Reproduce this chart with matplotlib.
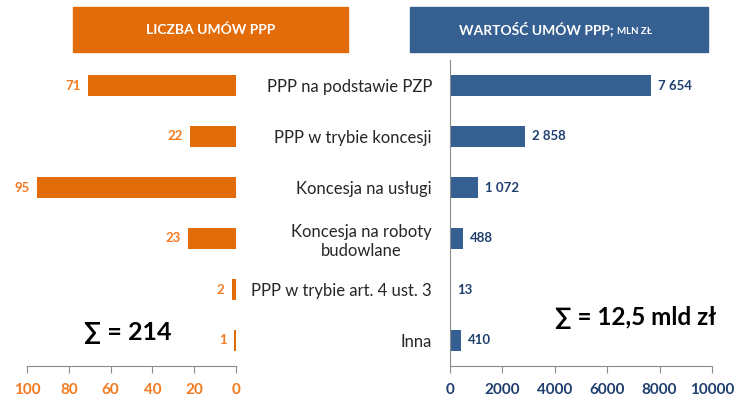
import numpy as np
import matplotlib.pyplot as plt
from matplotlib.patches import Rectangle

categories = ["PPP na podstawie PZP", "PPP w trybie koncesji", "Koncesja na usługi",
              "Koncesja na roboty\nbudowlane", "PPP w trybie art. 4 ust. 3", "Inna"]
counts = [71, 22, 95, 23, 2, 1]
values = [7654, 2858, 1072, 488, 13, 410]
value_labels = ["7 654", "2 858", "1 072", "488", "13", "410"]

orange = "#E36C0A"
orange_txt = "#F47A20"
blue = "#366092"
blue_txt = "#1F3F6E"
grey = "#8C8C8C"

plt.rcParams['font.family'] = ['Lato', 'DejaVu Sans']

W, H = 752, 400
fig = plt.figure(figsize=(W / 100, H / 100), dpi=100)

def box(x0, y0, x1, y1):
    return [x0 / W, 1 - y1 / H, (x1 - x0) / W, (y1 - y0) / H]

ypos = np.arange(len(categories))

# left panel: number of contracts
axl = fig.add_axes(box(27, 60, 236, 366))
axl.barh(ypos, counts, height=0.43, color=orange)
axl.set_xlim(100, 0)
axl.set_ylim(5.5, -0.5)
axl.set_xticks([100, 80, 60, 40, 20, 0])
for s in ["top", "left", "right"]:
    axl.spines[s].set_visible(False)
axl.spines["bottom"].set_color(grey)
axl.set_yticks([])
axl.tick_params(axis="x", colors=grey, length=5, pad=7)
for t in axl.get_xticklabels():
    t.set_color(orange_txt)
    t.set_fontweight("bold")
    t.set_fontsize(11)
for y, c in zip(ypos, counts):
    axl.text(c + 3.5, y, str(c), ha="right", va="center", color=orange_txt,
             fontsize=9.5, fontweight="bold")
axl.text(0.48, 0.11, "∑ = 214", transform=axl.transAxes, ha="center", va="center",
         fontsize=18, fontweight="bold", color="black")

# right panel: value of contracts
axr = fig.add_axes(box(450, 60, 712, 366))
axr.barh(ypos, values, height=0.43, color=blue)
axr.set_xlim(0, 10000)
axr.set_ylim(5.5, -0.5)
axr.set_xticks([0, 2000, 4000, 6000, 8000, 10000])
for s in ["top", "right"]:
    axr.spines[s].set_visible(False)
axr.spines["bottom"].set_color(grey)
axr.spines["left"].set_color(grey)
axr.set_yticks(ypos)
axr.set_yticklabels(categories, fontsize=12, color="#262626", ha="right")
axr.tick_params(axis="y", length=0, pad=13)
axr.tick_params(axis="x", colors=grey, length=5, pad=7)
for t in axr.get_xticklabels():
    t.set_color(blue_txt)
    t.set_fontweight("bold")
    t.set_fontsize(11)
for t in axr.get_yticklabels():
    t.set_multialignment("center")
for y, v, lab in zip(ypos, values, value_labels):
    axr.text(v + 280, y, lab, ha="left", va="center", color=blue_txt,
             fontsize=9.5, fontweight="bold")
axr.text(0.71, 0.16, "∑ = 12,5 mld zł", transform=axr.transAxes, ha="center",
         va="center", fontsize=17.5, fontweight="bold", color="black")

# header boxes
fig.patches.append(Rectangle((73 / W, 1 - 52 / H), 275 / W, 45 / H,
                             transform=fig.transFigure, color=orange))
fig.patches.append(Rectangle((410 / W, 1 - 52 / H), 298 / W, 45 / H,
                             transform=fig.transFigure, color=blue))
fig.text((73 + 275 / 2) / W, 1 - 34 / H, "LICZBA UMÓW PPP", ha="center", va="baseline",
         color="white", fontsize=10, fontweight="bold")
fig.text(459 / W, 1 - 34 / H, "WARTOŚĆ UMÓW PPP;", ha="left",
         va="baseline", color="white", fontsize=10, fontweight="bold")
fig.text(617 / W, 1 - 34 / H, "MLN ZŁ", ha="left",
         va="baseline", color="white", fontsize=7, fontweight="bold")

fig.savefig("out.png", dpi=100)
